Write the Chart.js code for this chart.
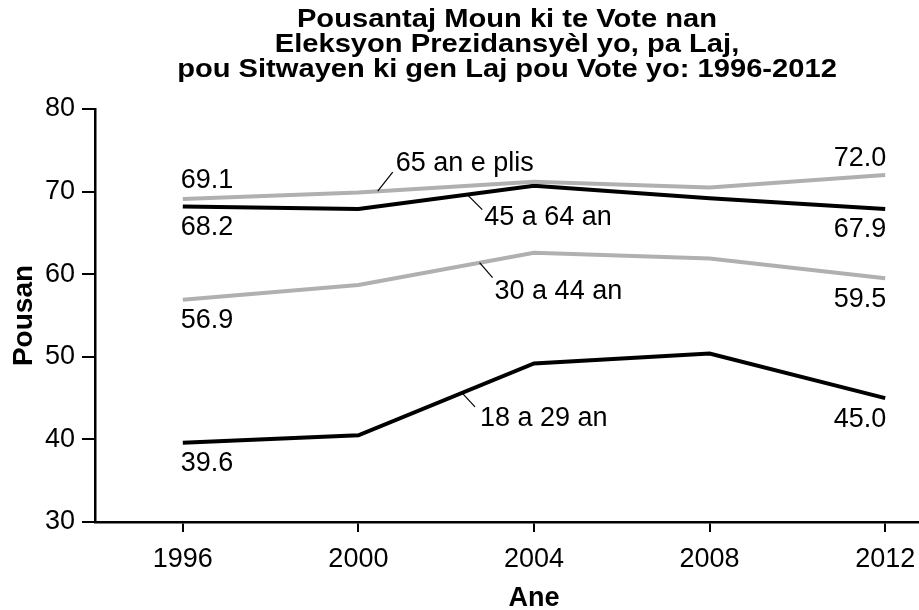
<!DOCTYPE html>
<html>
<head>
<meta charset="utf-8">
<script src="https://cdn.jsdelivr.net/npm/chart.js@4.4.1/dist/chart.umd.min.js"></script>
<style>
  html, body { margin: 0; padding: 0; background: #fff; }
  canvas { display: block; }
</style>
</head>
<body>
<canvas id="chart" width="919" height="610"></canvas>
<script>
// Done pou chak gwoup laj (pousantaj sitwayen ki vote)
const YEARS = [1996, 2000, 2004, 2008, 2012];
const AGE_65_PLUS = [69.1, 69.9, 71.2, 70.5, 72.0];
const AGE_45_64 = [68.2, 67.9, 70.7, 69.2, 67.9];
const AGE_30_44 = [56.9, 58.7, 62.6, 61.9, 59.5];
const AGE_18_29 = [39.6, 40.5, 49.2, 50.4, 45.0];
const SERIES_NAMES = ["65 an e plis", "45 a 64 an", "30 a 44 an", "18 a 29 an"];
const Y_TICKS = [30, 40, 50, 60, 70, 80];
const TITLE_LINES = [
  "Pousantaj Moun ki te Vote nan",
  "Eleksyon Prezidansyèl yo, pa Laj,",
  "pou Sitwayen ki gen Laj pou Vote yo: 1996-2012",
];
const X_TITLE = "Ane";
const Y_TITLE = "Pousan";

const FONT = "'Liberation Sans', Arial, Helvetica, sans-serif";
const GRAY = "#b0b0b0";
const BLACK = "#000000";

// kote etikèt seri yo chita: sou segman 2000-2004, fraksyon t, liy endikatè (lx, ly), tèks (tx, ty)
const CALLOUTS = [
  { t: 0.11, lx: 15, ly: -19, tx: 3, ty: -9 },
  { t: 0.62, lx: 15, ly: 15, tx: 2, ty: 8 },
  { t: 0.69, lx: 13, ly: 15, tx: 2, ty: 14 },
  { t: 0.59, lx: 13, ly: 14, tx: 5, ty: 12 },
];
// valè nan pwent yo: -1 = anwo liy lan, 1 = anba
const END_SIDE = [
  { first: -1, last: -1 },
  { first: 1, last: 1 },
  { first: 1, last: 1 },
  { first: 1, last: 1 },
];

const SERIES = [AGE_65_PLUS, AGE_45_64, AGE_30_44, AGE_18_29];
const COLORS = [GRAY, BLACK, GRAY, BLACK];

function toPoints(values) {
  return values.map((v, i) => ({ x: YEARS[i], y: v }));
}

// tit la: tèks gra, yon ti jan lonje sou lajè, santre sou zòn grafik la
const titlePlugin = {
  id: "wideTitle",
  afterDraw(chart) {
    const { ctx, chartArea } = chart;
    const cx = (chartArea.left + chartArea.right) / 2;
    const stretch = 1.12;
    ctx.save();
    ctx.font = `bold 26px ${FONT}`;
    ctx.fillStyle = BLACK;
    ctx.textAlign = "center";
    ctx.textBaseline = "middle";
    TITLE_LINES.forEach((line, i) => {
      ctx.save();
      ctx.translate(cx, 20 + i * 25);
      ctx.scale(stretch, 1);
      ctx.fillText(line, 0, 0);
      ctx.restore();
    });
    ctx.restore();
  },
};

const labelPlugin = {
  id: "labels",
  afterDatasetsDraw(chart) {
    const { ctx, scales } = chart;
    const xs = scales.x;
    const ys = scales.y;
    ctx.save();
    ctx.font = `27px ${FONT}`;
    ctx.fillStyle = BLACK;
    ctx.textBaseline = "middle";

    SERIES.forEach((values, i) => {
      const last = values.length - 1;
      // premye valè
      ctx.textAlign = "left";
      const x0 = xs.getPixelForValue(YEARS[0]);
      const y0 = ys.getPixelForValue(values[0]);
      ctx.fillText(values[0].toFixed(1), x0 - 2, y0 + (END_SIDE[i].first < 0 ? -18 : 21));
      // dènye valè
      ctx.textAlign = "right";
      const x1 = xs.getPixelForValue(YEARS[last]);
      const y1 = ys.getPixelForValue(values[last]);
      ctx.fillText(values[last].toFixed(1), x1 + 1, y1 + (END_SIDE[i].last < 0 ? -17 : 21));

      // non seri a ak liy endikatè
      const c = CALLOUTS[i];
      const ax = xs.getPixelForValue(YEARS[1]);
      const ay = ys.getPixelForValue(values[1]);
      const bx = xs.getPixelForValue(YEARS[2]);
      const by = ys.getPixelForValue(values[2]);
      const sx = ax + (bx - ax) * c.t;
      const sy = ay + (by - ay) * c.t;
      const ex = sx + c.lx;
      const ey = sy + c.ly;
      ctx.strokeStyle = BLACK;
      ctx.lineWidth = 1.2;
      ctx.beginPath();
      ctx.moveTo(sx, sy);
      ctx.lineTo(ex, ey);
      ctx.stroke();
      ctx.textAlign = "left";
      ctx.fillText(SERIES_NAMES[i], ex + c.tx, ey + c.ty);
    });

    // tit aks X, santre sou 1996-2012
    const mid = (xs.getPixelForValue(YEARS[0]) + xs.getPixelForValue(YEARS[YEARS.length - 1])) / 2;
    ctx.font = `bold 27px ${FONT}`;
    ctx.textAlign = "center";
    ctx.fillText(X_TITLE, mid, 599);
    ctx.restore();
  },
};

new Chart(document.getElementById("chart"), {
  type: "line",
  data: {
    datasets: SERIES.map((values, i) => ({
      label: SERIES_NAMES[i],
      data: toPoints(values),
      borderColor: COLORS[i],
      borderWidth: 4,
      pointRadius: 0,
      tension: 0,
      fill: false,
    })),
  },
  options: {
    responsive: false,
    devicePixelRatio: 1,
    animation: false,
    layout: { padding: { left: 0, right: 0, top: 109, bottom: 0 } },
    plugins: {
      legend: { display: false },
      tooltip: { enabled: false },
      title: { display: false },
    },
    scales: {
      x: {
        type: "linear",
        min: 1994,
        max: 2012.77,
        afterBuildTicks: (s) => { s.ticks = YEARS.map((v) => ({ value: v })); },
        afterFit: (s) => {
          s.height = 88;
          s.paddingLeft = 0;
          s.paddingRight = 0;
        },
        border: { color: BLACK, width: 2.5 },
        grid: { drawOnChartArea: false, drawTicks: true, tickLength: 10, color: BLACK, lineWidth: 2 },
        ticks: {
          color: BLACK,
          padding: 11,
          maxRotation: 0,
          font: { family: FONT, size: 27 },
          callback: (v) => String(v),
        },
      },
      y: {
        min: 30,
        max: 80,
        afterBuildTicks: (s) => { s.ticks = Y_TICKS.map((v) => ({ value: v })); },
        afterFit: (s) => { s.width = 95; },
        border: { color: BLACK, width: 2.5 },
        grid: { drawOnChartArea: false, drawTicks: true, tickLength: 13, color: BLACK, lineWidth: 2 },
        ticks: {
          color: BLACK,
          padding: 7,
          font: { family: FONT, size: 27 },
          callback: (v) => String(v),
        },
        title: {
          display: true,
          text: Y_TITLE,
          color: BLACK,
          font: { family: FONT, size: 28, weight: "bold" },
          padding: { top: 7, bottom: 0 },
        },
      },
    },
  },
  plugins: [labelPlugin, titlePlugin],
});
</script>
</body>
</html>
